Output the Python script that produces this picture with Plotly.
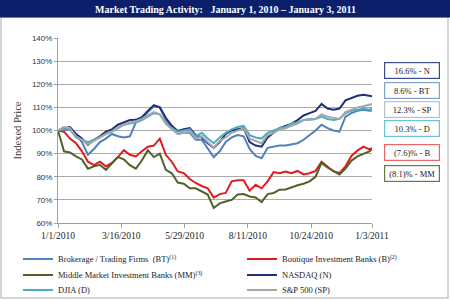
import pandas as pd
import plotly.graph_objects as go

dates = pd.date_range("2010-01-01", periods=53, freq="7D").tolist() + [pd.Timestamp("2011-01-03")]

bt = [100, 100, 100.5, 98, 95, 89.5, 92, 95, 96.5, 98.5, 97.5, 97, 97.5, 103.5, 105, 108, 110.5, 110,
      104.5, 101, 98.5, 99, 99, 96, 96, 92.5, 88.5, 91, 95, 97, 98, 97.5, 92, 89, 88, 92.5, 93, 93.5,
      93.5, 94, 94.5, 96, 98, 100, 102.5, 101, 100, 99.5, 106, 107.5, 108.5, 109, 108.5, 108.6]
b = [100, 99.5, 96.5, 94.5, 91, 86.5, 85, 86.5, 84.5, 86, 88.5, 91.5, 89.5, 88.8, 91, 93, 93.5, 96.5,
     89.5, 86.5, 82.3, 81.6, 79, 77.3, 76, 75, 71, 72.5, 73, 78, 78.5, 78.5, 74, 76.5, 75, 78, 82, 81.5,
     82.3, 81.5, 82.5, 81, 81.5, 82.5, 86.5, 84.5, 82.3, 81.6, 84.5, 89, 91.3, 93, 91.8, 92.4]
mm = [100, 91, 90.5, 88.8, 87.5, 83.5, 84.5, 85.2, 83, 86, 88.5, 87.5, 85, 83.5, 87, 91.5, 88.5, 90,
      83, 81.5, 77.5, 77, 75, 75, 73.5, 72.3, 66.5, 68.5, 69.3, 70, 72.3, 72.5, 71.5, 71, 69, 72.5, 73,
      74.4, 74.5, 75.5, 76.3, 77, 78, 80, 86, 84, 82.5, 81, 83.5, 87, 88.8, 90, 91, 91.9]
n = [100, 101, 101.5, 98.5, 96.5, 93.8, 96, 97.5, 99.5, 100.5, 102.5, 103.5, 104.5, 104.6, 105.8, 108.5,
     111, 110, 105.5, 102, 99.8, 100.5, 101, 98, 97, 94.5, 92.5, 95, 98.5, 100, 100.5, 101, 95, 93.5, 93,
     97, 99, 101, 102, 103, 104.5, 106.5, 107.5, 108.5, 111.5, 109.5, 109, 109.5, 113, 114, 115, 115.5,
     115, 114.8]
d = [100, 100.5, 100.5, 97, 96, 95, 96, 97, 98.5, 99.5, 101, 102.5, 103, 103.5, 104.5, 106, 107.5, 107,
     103, 101, 99.5, 100, 100.5, 97.5, 99, 96.5, 94.5, 97, 99, 100.5, 101.5, 102, 98, 97, 96.5, 99, 100,
     101, 101.5, 103, 103.5, 104.5, 105, 105, 106, 105, 104.5, 105, 107.5, 108.5, 109, 109.5, 109, 109.5]
sp = [100, 101.5, 101, 97.5, 96, 94, 95.5, 97, 98.5, 99.5, 101.5, 102.5, 103.5, 104, 105, 106.5, 108, 107,
      103, 100.5, 98.5, 99, 99.5, 96.5, 97.5, 95, 92.5, 95.5, 97, 99, 100, 101, 96.5, 95.5, 94.5, 98, 99,
      100.5, 101, 102, 103, 104.5, 104.5, 105, 107, 106, 105.5, 105, 108, 109, 110, 110.5, 111, 111.5]

names = ["Brokerage / Trading Firms  (BT)<sup>(1)</sup>", "Boutique Investment Banks (B)<sup>(2)</sup>",
         "Middle Market Investment Banks (MM)<sup>(3)</sup>", "NASDAQ (N)", "DJIA (D)", "S&P 500 (SP)"]
series = [bt, b, mm, n, d, sp]
colors = ["#4F81BD", "#E3191E", "#4F6228", "#1F2F78", "#4BACC6", "#A6A6A6"]
legend_ids = ["legend", "legend2", "legend3", "legend4", "legend5", "legend6"]

tick_dates = ["2010-01-01", "2010-03-16", "2010-05-29", "2010-08-11", "2010-10-24", "2011-01-03"]
tick_text = ["1/1/2010", "3/16/2010", "5/29/2010", "8/11/2010", "10/24/2010", "1/3/2011"]

box_text = ["16.6% - N", "8.6% - BT", "12.3% - SP", "10.3% - D", "(7.6)% - B", "(8.1)% - MM"]
box_colors = ["#3C4C8C", "#7FA0CF", "#BFBFBF", "#6CC3D8", "#E46A6A", "#6B7B3B"]
box_y = [70.7, 90.3, 109.5, 128.5, 152.5, 173.3]

L, T, R, B = 58, 38, 372, 223
W, H = 450, 300
pw, ph = R - L, B - T

def px(xp):
    return (xp - L) / pw

def py(yp):
    return (B - yp) / ph

fig = go.Figure()
for nm, s, c, lg in zip(names, series, colors, legend_ids):
    fig.add_trace(go.Scatter(x=dates, y=s, mode="lines", name=nm, legend=lg,
                             line=dict(color=c, width=2)))

serif = "Liberation Serif, Times New Roman, serif"

shapes = [
    dict(type="rect", xref="paper", yref="paper", x0=px(1), x1=px(448), y0=py(298), y1=py(17),
         line=dict(color="#C8C8C8", width=1.5), fillcolor="rgba(0,0,0,0)", layer="below"),
    dict(type="rect", xref="paper", yref="paper", x0=px(0), x1=px(450), y0=py(17.5), y1=py(0),
         line=dict(width=0), fillcolor="#0C1F6B", layer="above"),
]

annotations = [
    dict(text="<b>Market Trading Activity:   January 1, 2010 – January 3, 2011</b>", xref="paper", yref="paper",
         x=px(225), y=py(9), showarrow=False, font=dict(family=serif, size=10, color="white"),
         xanchor="center", yanchor="middle"),
]
for t, c, yy in zip(box_text, box_colors, box_y):
    annotations.append(dict(text=t, xref="paper", yref="paper", x=px(384), y=py(yy), xanchor="left",
                            yanchor="middle", showarrow=False, width=50, height=11, align="center",
                            bordercolor=c, borderwidth=1.2, borderpad=2,
                            font=dict(family=serif, size=8.5, color="#222222")))

leg_common = dict(orientation="v", xanchor="left", yanchor="middle", tracegroupgap=0,
                  font=dict(family=serif, size=8.5, color="#222222"), itemwidth=30,
                  bgcolor="rgba(0,0,0,0)", borderwidth=0)
col_x = [18, 242]
row_y = [259, 275, 290]
legend_layout = {}
for i, lg in enumerate(legend_ids):
    legend_layout[lg] = dict(x=px(col_x[i % 2]), y=py(row_y[i // 2]), **leg_common)

fig.update_layout(
    width=W, height=H,
    margin=dict(l=L, r=W - R, t=T, b=H - B, autoexpand=False),
    paper_bgcolor="white", plot_bgcolor="white",
    shapes=shapes, annotations=annotations,
    showlegend=True,
    **legend_layout,
    xaxis=dict(type="date", range=["2010-01-01", "2011-01-03"], tickvals=tick_dates, ticktext=tick_text,
               showgrid=False, showline=True, linecolor="#A0A0A0", linewidth=1,
               ticks="outside", ticklen=4, tickcolor="#A0A0A0",
               tickfont=dict(family=serif, size=9.5, color="#222222")),
    yaxis=dict(range=[60, 140], dtick=10, ticksuffix="%", showgrid=True, gridcolor="#ABABAB", gridwidth=1,
               showline=True, linecolor="#A0A0A0", linewidth=1, ticks="outside", ticklen=3,
               tickcolor="#A0A0A0", zeroline=False,
               tickfont=dict(family="Liberation Sans, Arial, sans-serif", size=8, color="#333333"),
               title=dict(text="Indexed Price", standoff=8, font=dict(family=serif, size=10.5, color="#333333")),
               automargin=False),
)

fig.write_html("out.html")
